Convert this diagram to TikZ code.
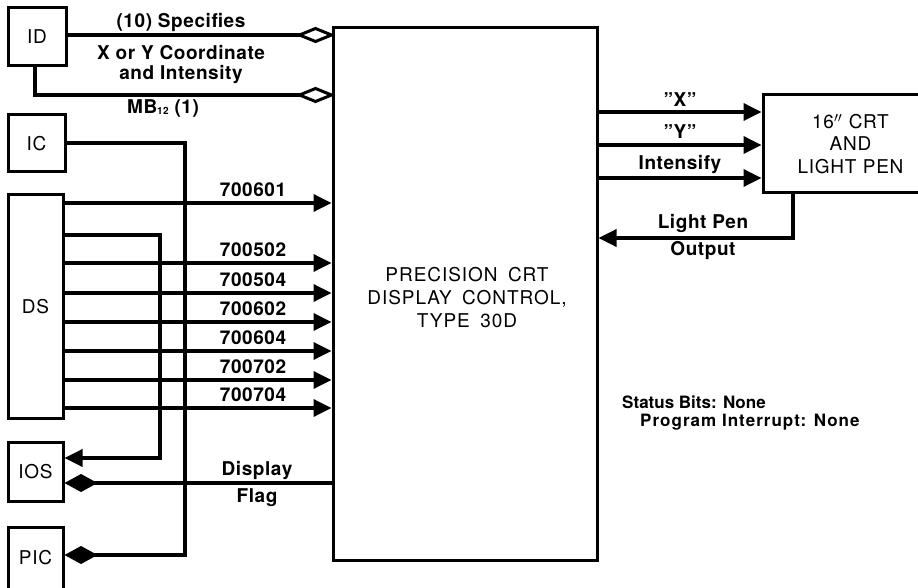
\documentclass[tikz,border=0pt]{standalone}
\usepackage{fontspec}
\setmainfont{TeX Gyre Heros}
\usetikzlibrary{arrows.meta,shapes.geometric}
\newcommand{\boxfont}{\fontsize{19}{22.5}\selectfont\addfontfeature{LetterSpace=4}}
\newcommand{\wsp}{\hspace{0.55em}}
\begin{document}
\begin{tikzpicture}[x=1pt,y=-1pt,
  box/.style={draw,line width=3pt,inner sep=0pt,font=\boxfont,align=center},
  wire/.style={line width=3.5pt},
  arr/.style={wire,-{Triangle[length=18pt,width=17pt]}},
  odiam/.style={diamond,draw,fill=white,line width=3pt,minimum width=32pt,minimum height=13pt,inner sep=0pt,outer sep=0pt,anchor=east},
  fdia/.style={wire,-{Diamond[length=33pt,width=18pt]}},
  lbl/.style={font=\fontsize{19}{22}\selectfont\bfseries\addfontfeature{LetterSpace=3},inner sep=0pt},
  stat/.style={font=\fontsize{17}{20}\selectfont\bfseries,inner sep=0pt,anchor=west}]
\useasboundingbox (0,0) rectangle (918,588);
% boxes
\node[box,minimum width=58pt,minimum height=58pt] (ID) at (37,37) {ID};
\node[box,minimum width=57pt,minimum height=57pt] (IC) at (36.5,143.5) {IC};
\node[box,minimum width=55pt,minimum height=223pt] (DS) at (35.5,306.5) {DS};
\node[box,minimum width=55pt,minimum height=59pt] (IOS) at (35.5,472) {IOS};
\node[box,minimum width=55pt,minimum height=62pt] (PIC) at (35.5,558) {PIC};
\node[box,minimum width=264pt,minimum height=532pt] (main) at (465,294) {};
\node[inner sep=0pt] (maintext) at (467,300) {\boxfont\addfontfeature{LetterSpace=5}\begin{tabular}{@{}c@{}}PRECISION\wsp CRT\\[0.5pt]DISPLAY\wsp CONTROL,\\[0.5pt]TYPE\wsp 30D\end{tabular}};
\node[box,minimum width=172pt,minimum height=98pt,text width=172pt] (CRT) at (849,144) {\hspace*{3pt}16$''$ CRT\\\hspace*{3pt}AND\\\hspace*{3pt}LIGHT PEN};
% ID connectors
\node[odiam] (d1) at (main.west |- 0,35) {};
\node[odiam] (d2) at (main.west |- 0,95) {};
\draw[wire] (ID.east |- d1) -- (d1.west);
\coordinate (idb) at (35,95);
\draw[wire] (ID.south -| idb) -- (idb) -- (d2.west);
\node[lbl] (l1) at (181,22) {(10) Specifies};
\node[lbl] (l2) at (181,53) {X or Y Coordinate};
\node[lbl] (l3) at (181,75) {and Intensity};
\node[lbl] (l4) at (163,108) {MB{\fontsize{10}{10}\selectfont\raisebox{-1pt}{12}} (1)};
% IC to PIC
\coordinate (ica) at (185,143);
\coordinate (icb) at (185,555);
\draw[fdia] (IC.east |- ica) -- (ica) -- (icb) -- (PIC.east |- icb);
% DS to IOS
\coordinate (dsa) at (160,235);
\coordinate (dsb) at (160,458);
\draw[arr] (DS.east |- dsa) -- (dsa) -- (dsb) -- (IOS.east |- dsb);
% DS lines
\foreach \y/\t in {203/700601,263/700502,293/700504,322/700602,351/700604,380/700702,408/700704}{
  \draw[arr] (DS.east |- 0,\y) -- (main.west |- 0,\y);
  \node[lbl] at (253,\y-13) {\t};
}
% Display flag
\draw[fdia] (main.west |- 0,483) -- (IOS.east |- 0,483);
\node[lbl] (df1) at (257,470) {Display};
\node[lbl] (df2) at (257,498) {Flag};
% right side
\draw[arr] (main.east |- 0,112) -- (CRT.west |- 0,112);
\draw[arr] (main.east |- 0,145) -- (CRT.west |- 0,145);
\draw[arr] (main.east |- 0,178) -- (CRT.west |- 0,178);
\node[lbl] (lx) at (680,100) {''X''};
\node[lbl] (ly) at (680,132) {''Y''};
\node[lbl] (li) at (680,165) {Intensify};
\coordinate (lpa) at (793,238);
\draw[arr] (CRT.south -| lpa) -- (lpa) -- (main.east |- lpa);
\node[lbl] (lp1) at (703,223) {Light Pen};
\node[lbl] (lp2) at (703,251) {Output};
% status
\node[stat] (s1) at (622,402) {Status Bits: None};
\node[stat] (s2) at (640,422) {\addfontfeature{LetterSpace=6}Program Interrupt: None};
\end{tikzpicture}
\end{document}
